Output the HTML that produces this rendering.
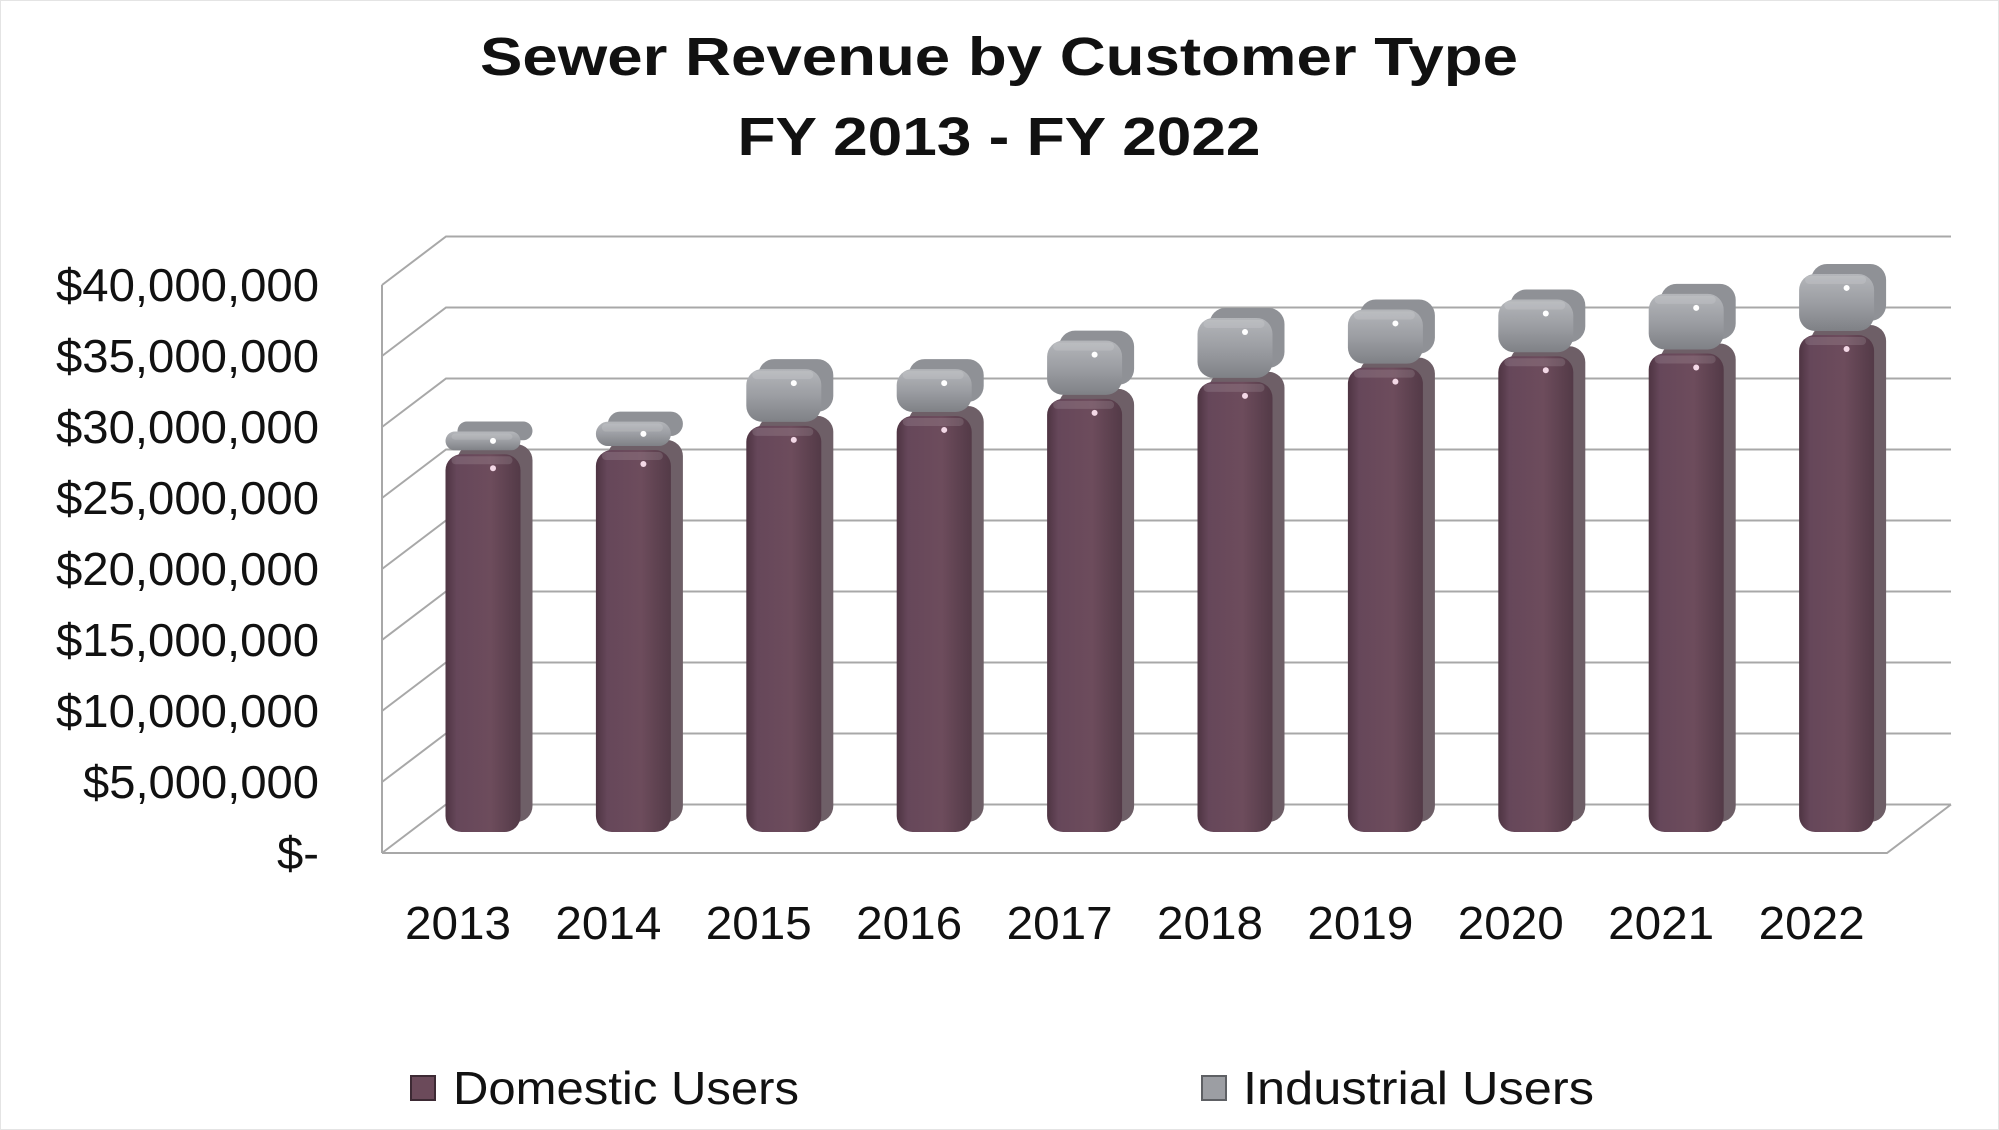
<!DOCTYPE html>
<html><head><meta charset="utf-8"><style>
html,body{margin:0;padding:0;background:#fff}
svg{display:block}
text{font-family:"Liberation Sans",sans-serif;fill:#111}
</style></head><body>
<svg id="chart" width="1999" height="1130" viewBox="0 0 1999 1130" xmlns="http://www.w3.org/2000/svg">
<defs>
<linearGradient id="gDom" x1="0" x2="1" y1="0" y2="0">
<stop offset="0" stop-color="#4e3442"/><stop offset="0.15" stop-color="#66475a"/><stop offset="0.6" stop-color="#6d4c5c"/><stop offset="1" stop-color="#533a47"/></linearGradient>
<linearGradient id="gInd" x1="0" x2="0" y1="0" y2="1">
<stop offset="0" stop-color="#b4b6ba"/><stop offset="0.5" stop-color="#9c9ea3"/><stop offset="1" stop-color="#7f8186"/></linearGradient>
</defs>
<rect x="0.5" y="0.5" width="1998" height="1129" fill="none" stroke="#e4e4e4"/>
<text x="999" y="75" text-anchor="middle" font-size="54" font-weight="bold" textLength="1038" lengthAdjust="spacingAndGlyphs">Sewer Revenue by Customer Type</text>
<text x="999" y="155" text-anchor="middle" font-size="54" font-weight="bold" textLength="523" lengthAdjust="spacingAndGlyphs">FY 2013 - FY 2022</text>
<g id="grid"></g>
<g id="bars"></g>
<g id="labels"></g>
<g>
<g><rect x="411" y="1076" width="24" height="24" fill="#6b4a5a" stroke="#3d2a34" stroke-width="2"/>
<text x="453" y="1104" font-size="46" textLength="346" lengthAdjust="spacingAndGlyphs">Domestic Users</text></g>
<g><rect x="1202" y="1076" width="24" height="24" fill="#9c9ea3" stroke="#5e6064" stroke-width="2"/>
<text x="1243" y="1104" font-size="46" textLength="351" lengthAdjust="spacingAndGlyphs">Industrial Users</text></g>
</g>
</svg>
<script>
const years = ["2013","2014","2015","2016","2017","2018","2019","2020","2021","2022"];
const domestic = [26.6, 26.9, 28.6, 29.3, 30.5, 31.7, 32.7, 33.5, 33.7, 35.0];
const industrial = [1.6, 2.0, 4.0, 3.3, 4.1, 4.5, 4.1, 4.0, 4.2, 4.3];
const yTicks = [0, 5, 10, 15, 20, 25, 30, 35, 40];
const yTickLabels = ["$-", "$5,000,000", "$10,000,000", "$15,000,000", "$20,000,000", "$25,000,000", "$30,000,000", "$35,000,000", "$40,000,000"];

const NS = "http://www.w3.org/2000/svg";
const PX = 14.2; // px per million
const frontX0 = 382, frontX1 = 1887, frontY0 = 853;
const DX = 64, DY = -48.5;
const barBase = 832, barW = 75, barC0 = 483, barStep = 150.4, sideW = 12, sideH = 10;
const yFront = v => frontY0 - v * PX;
const yBar = v => barBase - v * PX;
const xBar = i => barC0 + i * barStep;

function el(tag, attrs, parent) {
  const e = document.createElementNS(NS, tag);
  for (const k in attrs) e.setAttribute(k, attrs[k]);
  parent.appendChild(e);
  return e;
}
const grid = document.getElementById('grid');
const bars = document.getElementById('bars');
const labels = document.getElementById('labels');
const gs = {stroke: "#a8a8a8", "stroke-width": 2, fill: "none"};

// walls
let l = el('line', Object.assign({x1: frontX0, y1: yFront(40), x2: frontX0, y2: frontY0}, gs), grid);


yTicks.forEach((t, i) => {
  const yf = yFront(t);
  const p = el('polyline', Object.assign({points: `${frontX0},${yf} ${frontX0 + DX},${yf + DY} ${frontX1 + DX},${yf + DY}`}, gs), grid);
  
  
  const tx = el('text', {x: 319, y: yf + 16, "text-anchor": "end", "font-size": 46, textLength: t === 0 ? 42 : (t < 10 ? 236 : 263), lengthAdjust: "spacingAndGlyphs"}, labels);
  tx.textContent = yTickLabels[i];
  
  
});
const floor = el('polyline', Object.assign({points: `${frontX0},${frontY0} ${frontX1},${frontY0} ${frontX1 + DX},${frontY0 + DY}`}, gs), grid);



function seg(x, yTop, yBot, fill, sideFill, name, dot) {
  const g = el('g', {}, bars);
  
  
  const h = Math.max(yBot - yTop, 10);
  const r = Math.min(16, h / 2);
  el('rect', {x: x - barW / 2 + sideW, y: yTop - sideH, width: barW, height: h, rx: r, fill: sideFill}, g);
  el('rect', {x: x - barW / 2, y: yTop, width: barW, height: h, rx: r, fill: fill}, g);
  el('rect', {x: x - barW / 2 + 6, y: yTop + 2, width: barW - 14, height: Math.min(8, h / 3), rx: 4, fill: "#fff", opacity: 0.12}, g);
  el('circle', {cx: x + 10, cy: yTop + Math.min(14, h / 2), r: 3, fill: dot}, g);
}
years.forEach((yr, i) => {
  const x = xBar(i);
  const dTop = yBar(domestic[i]);
  seg(x, dTop, barBase, "url(#gDom)", "#6e5f67", "bar-domestic-" + yr, "#f3d8e6");
  const iTop = yBar(domestic[i] + industrial[i]);
  seg(x, iTop, dTop - 4, "url(#gInd)", "#8f9196", "bar-industrial-" + yr, "#ffffff");
  const tx = el('text', {x: x - 25, y: 939, "text-anchor": "middle", "font-size": 46, textLength: 106, lengthAdjust: "spacingAndGlyphs"}, labels);
  tx.textContent = yr;
  
  
});
</script>
</body></html>
